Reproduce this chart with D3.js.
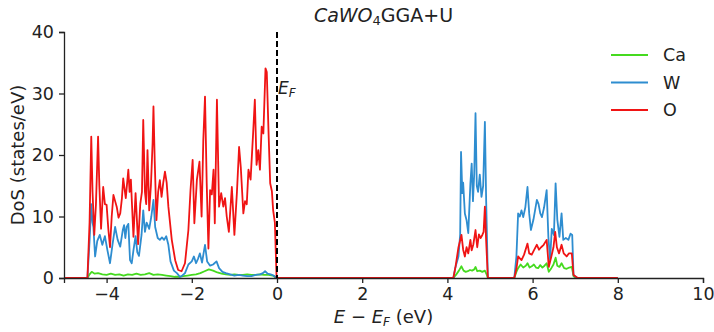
<!DOCTYPE html>
<html>
<head>
<meta charset="utf-8">
<script src="https://cdn.jsdelivr.net/npm/d3@7"></script>
<style>
  body { margin: 0; background: #fff; }
  svg text { font-family: "DejaVu Sans", sans-serif; fill: #222; }
</style>
</head>
<body>
<script>
'use strict';

var width = 714,
    height = 332,
    margin = {top: 32, right: 11, bottom: 54, left: 64};

// energies (eV) and DoS (states/eV)
var caE = [-5, -4.45, -4.40, -4.35, -4.28, -4.20, -4.10, -4.00, -3.90, -3.80, -3.70, -3.60, -3.50, -3.40, -3.30, -3.20, -3.10, -3.00, -2.90, -2.80, -2.70, -2.60, -2.50, -2.40, -2.30, -2.20, -2.10, -2.00, -1.90, -1.80, -1.70, -1.60, -1.50, -1.40, -1.30, -1.20, -1.10, -1.00, -0.90, -0.80, -0.70, -0.60, -0.50, -0.40, -0.30, -0.20, -0.10, -0.01,
  4.14, 4.20, 4.27, 4.33, 4.38, 4.43, 4.48, 4.53, 4.58, 4.63, 4.66, 4.70, 4.76, 4.82, 4.88, 4.92, 4.95,
  5.57, 5.62, 5.66, 5.72, 5.78, 5.84, 5.88, 5.93, 5.98, 6.03, 6.08, 6.13, 6.18, 6.23, 6.28, 6.33, 6.38, 6.44, 6.49, 6.54, 6.58, 6.63, 6.68, 6.74, 6.80, 6.86, 6.92, 6.96, 7.02, 8];
var caV = [0, 0, 0.6, 1.0, 0.7, 0.8, 0.6, 0.5, 0.7, 0.5, 0.6, 0.4, 0.6, 0.5, 0.7, 0.5, 0.6, 0.8, 0.5, 0.6, 0.5, 0.4, 0.3, 0.2, 0.2, 0.3, 0.4, 0.5, 0.6, 0.8, 1.1, 1.4, 1.2, 0.9, 0.7, 0.6, 0.5, 0.6, 0.5, 0.5, 0.6, 0.5, 0.5, 0.6, 0.5, 0.5, 0.4, 0,
  0, 0.5, 1.2, 1.9, 1.2, 1.0, 1.1, 1.3, 1.2, 1.4, 1.8, 1.1, 1.2, 1.0, 1.2, 0.6, 0,
  0, 1.0, 1.6, 2.2, 1.7, 2.0, 2.4, 1.7, 1.9, 2.2, 1.7, 1.6, 2.1, 1.7, 2.0, 2.4, 1.0, 1.6, 2.2, 3.3, 2.0, 1.8, 2.4, 1.6, 1.5, 1.7, 1.8, 0.3, 0, 0];

var wE = [-5, -4.45, -4.40, -4.36, -4.33, -4.31, -4.27, -4.22, -4.16, -4.10, -4.04, -3.98, -3.92, -3.86, -3.80, -3.74, -3.68, -3.62, -3.59, -3.56, -3.53, -3.49, -3.45, -3.41, -3.37, -3.32, -3.28, -3.24, -3.18, -3.14, -3.10, -3.06, -3.00, -2.95, -2.90, -2.86, -2.80, -2.75, -2.70, -2.65, -2.60, -2.55, -2.50, -2.42, -2.35, -2.28, -2.24, -2.16, -2.08, -2.00, -1.95, -1.90, -1.85, -1.81, -1.76, -1.69, -1.64, -1.57, -1.50, -1.42, -1.36, -1.28, -1.20, -1.10, -1.00, -0.90, -0.80, -0.70, -0.60, -0.50, -0.40, -0.33, -0.28, -0.22, -0.15, -0.08, -0.01,
  4.14, 4.19, 4.26, 4.30, 4.32, 4.35, 4.37, 4.41, 4.45, 4.49, 4.54, 4.57, 4.60, 4.63, 4.66, 4.69, 4.72, 4.76, 4.80, 4.84, 4.88, 4.91, 4.95,
  5.57, 5.62, 5.66, 5.70, 5.74, 5.78, 5.83, 5.88, 5.92, 5.96, 6.02, 6.10, 6.14, 6.18, 6.22, 6.27, 6.33, 6.37, 6.41, 6.45, 6.50, 6.54, 6.58, 6.63, 6.68, 6.72, 6.78, 6.84, 6.89, 6.93, 6.96, 7.02, 7.06, 8];
var wV = [0, 0, 6, 12, 9, 8.3, 3.5, 6, 7, 5.4, 6.8, 4.5, 2.4, 5.5, 8.3, 6.2, 5.1, 7.8, 8.6, 6.5, 8.3, 8.8, 2.9, 2.4, 4.5, 6.8, 4.2, 3.6, 7, 11, 7.5, 9, 8, 10, 12.7, 8.3, 6.5, 6.2, 6.6, 6.2, 6.8, 5.4, 2.7, 1.2, 0.8, 0.2, 0.3, 0.8, 2.2, 2.7, 3.5, 2.4, 3.2, 4, 2.5, 5.4, 2.7, 2.0, 2.2, 2.7, 1.6, 1.0, 0.8, 0.6, 0.4, 0.5, 0.4, 0.3, 0.3, 0.5, 0.6, 0.8, 1.1, 0.7, 0.6, 0.4, 0,
  0, 1.8, 3.5, 7.1, 20.5, 13.8, 15.5, 10.5, 9.4, 7.3, 15.4, 18.6, 12.5, 17, 26.8, 15, 14, 16.8, 13.2, 15, 25.4, 12.5, 0,
  0, 3.5, 10.5, 10, 11, 9.9, 11.5, 14.8, 10.5, 7.8, 9.5, 12.7, 12, 10.5, 9.9, 11.5, 14.3, 6.7, 2.9, 8, 7, 15.4, 9.5, 6.7, 10.5, 6.2, 6.5, 6.2, 7.2, 7, 0.5, 0.1, 0, 0];

var oE = [-5, -4.45, -4.40, -4.36, -4.33, -4.29, -4.25, -4.20, -4.17, -4.13, -4.08, -4.04, -4.00, -3.96, -3.92, -3.88, -3.84, -3.80, -3.76, -3.72, -3.68, -3.64, -3.61, -3.55, -3.49, -3.46, -3.43, -3.37, -3.32, -3.26, -3.21, -3.17, -3.14, -3.10, -3.07, -3.04, -3.00, -2.96, -2.92, -2.90, -2.87, -2.83, -2.79, -2.75, -2.71, -2.67, -2.63, -2.59, -2.55, -2.47, -2.39, -2.32, -2.24, -2.16, -2.08, -2.03, -1.98, -1.94, -1.88, -1.82, -1.77, -1.73, -1.69, -1.65, -1.61, -1.57, -1.53, -1.49, -1.46, -1.41, -1.36, -1.31, -1.26, -1.22, -1.18, -1.13, -1.06, -1.00, -0.94, -0.89, -0.85, -0.79, -0.75, -0.71, -0.67, -0.62, -0.56, -0.52, -0.48, -0.44, -0.40, -0.36, -0.32, -0.27, -0.24, -0.20, -0.16, -0.12, -0.09, -0.05, -0.01,
  4.14, 4.19, 4.26, 4.33, 4.37, 4.41, 4.45, 4.49, 4.54, 4.57, 4.61, 4.66, 4.70, 4.74, 4.78, 4.82, 4.85, 4.88, 4.91, 4.95,
  5.57, 5.62, 5.66, 5.70, 5.74, 5.80, 5.88, 5.92, 5.98, 6.03, 6.10, 6.15, 6.20, 6.26, 6.33, 6.38, 6.44, 6.49, 6.53, 6.57, 6.62, 6.68, 6.73, 6.80, 6.85, 6.92, 6.96, 7.02, 7.06, 8];
var oV = [0, 0, 9, 23, 14, 7, 12, 23, 15, 8, 14.8, 12, 11.9, 8, 5, 10, 13.5, 12.5, 11.5, 9.8, 10.5, 13, 16.2, 13, 17.6, 14, 16, 6.7, 13.8, 5.5, 12, 14, 25.7, 14, 12, 20.8, 11, 15, 22, 27.9, 19, 9.4, 14, 15.9, 13.2, 15.5, 17.3, 15.5, 11.6, 6.2, 2.9, 1.3, 1.1, 2.4, 7.8, 14.3, 19.2, 8.9, 16, 18.9, 10, 22.4, 29.5, 15.4, 4.8, 14.3, 13.6, 17.6, 8.9, 29, 11.6, 13.8, 11.6, 13, 10, 7.5, 14.8, 7, 14, 21.3, 18, 10.5, 12.5, 12, 17.6, 16, 23.6, 29, 18.4, 20.8, 17.6, 24.6, 23.5, 34.1, 33.5, 24, 15.4, 14.1, 11, 9, 0,
  0, 1.8, 5, 7, 4.6, 3.5, 5, 4, 6.2, 4.5, 5.5, 7.8, 5, 7.1, 6.5, 7, 7.5, 11.6, 6, 0,
  0, 1.5, 3.5, 3.2, 2.9, 3.8, 5.6, 4, 3.8, 4.5, 5.4, 4.6, 5.0, 5.4, 6.2, 1.8, 3.5, 5, 7.5, 5, 4, 5.4, 4, 3.5, 4, 4, 0.5, 0.2, 0, 0];

var seriesNames = ['Ca', 'W', 'O'];
var seriesColors = ['#45da1f', '#2e8dd0', '#f01414'];
var xTicks = [-4, -2, 0, 2, 4, 6, 8, 10];
var yTicks = [0, 10, 20, 30, 40];

var series = [
  {name: seriesNames[0], color: seriesColors[0], pts: d3.zip(caE, caV)},
  {name: seriesNames[1], color: seriesColors[1], pts: d3.zip(wE, wV)},
  {name: seriesNames[2], color: seriesColors[2], pts: d3.zip(oE, oV)}
];

var x = d3.scaleLinear().domain([-5, 10]).range([margin.left, width - margin.right]);
var y = d3.scaleLinear().domain([0, 40]).range([height - margin.bottom, margin.top]);

var svg = d3.select('body').append('svg')
  .attr('width', width)
  .attr('height', height);

// curves
var line = d3.line()
  .x(function(d) { return x(d[0]); })
  .y(function(d) { return y(d[1]); });

svg.append('g').selectAll('path')
  .data(series)
  .enter().append('path')
  .attr('d', function(d) { return line(d.pts); })
  .attr('fill', 'none')
  .attr('stroke', function(d) { return d.color; })
  .attr('stroke-width', 1.8)
  .attr('stroke-linejoin', 'round');

// axes (left + bottom only)
var xAxis = svg.append('g')
  .attr('transform', 'translate(0,' + (height - margin.bottom) + ')')
  .call(d3.axisBottom(x).tickValues(xTicks).tickSize(5).tickPadding(5).tickFormat(d3.format('d')));
var yAxis = svg.append('g')
  .attr('transform', 'translate(' + margin.left + ',0)')
  .call(d3.axisLeft(y).tickValues(yTicks).tickSize(5).tickPadding(5));

[xAxis, yAxis].forEach(function(a) {
  a.select('.domain').attr('stroke', '#222').attr('stroke-width', 1.3);
  a.selectAll('.tick line').attr('stroke', '#222').attr('stroke-width', 1.3);
  a.selectAll('.tick text').style('font-size', '17.5px').attr('fill', '#222');
});

// Fermi level
svg.append('line')
  .attr('x1', x(0)).attr('x2', x(0))
  .attr('y1', y(40)).attr('y2', y(0))
  .attr('stroke', '#000')
  .attr('stroke-width', 2)
  .attr('stroke-dasharray', '6,3');

var ef = svg.append('text')
  .attr('x', x(0) + 1)
  .attr('y', y(30))
  .style('font-size', '17px');
ef.append('tspan').style('font-style', 'italic').text('E');
ef.append('tspan').style('font-style', 'italic').style('font-size', '12px').attr('dy', 3).text('F');

// title
var title = svg.append('text')
  .attr('x', (margin.left + width - margin.right) / 2)
  .attr('y', 22)
  .attr('text-anchor', 'middle')
  .style('font-size', '19px');
title.append('tspan').style('font-style', 'italic').text('CaWO');
title.append('tspan').style('font-size', '13px').attr('dy', 3).text('4');
title.append('tspan').attr('dy', -3).text('GGA+U');

// axis labels
var xl = svg.append('text')
  .attr('x', (margin.left + width - margin.right) / 2)
  .attr('y', 323)
  .attr('text-anchor', 'middle')
  .style('font-size', '18px');
xl.append('tspan').style('font-style', 'italic').text('E');
xl.append('tspan').text(' \u2212 ');
xl.append('tspan').style('font-style', 'italic').text('E');
xl.append('tspan').style('font-style', 'italic').style('font-size', '12px').attr('dy', 3).text('F');
xl.append('tspan').attr('dy', -3).text(' (eV)');

svg.append('text')
  .attr('transform', 'translate(24,' + y(20) + ') rotate(-90)')
  .attr('text-anchor', 'middle')
  .style('font-size', '18px')
  .text('DoS (states/eV)');

// legend
var legend = svg.append('g').selectAll('g')
  .data(series)
  .enter().append('g')
  .attr('transform', function(d, i) { return 'translate(611,' + (55 + i * 27.5) + ')'; });
legend.append('line')
  .attr('x1', 0).attr('x2', 37)
  .attr('stroke', function(d) { return d.color; })
  .attr('stroke-width', 1.8);
legend.append('text')
  .attr('x', 52)
  .attr('dy', '0.36em')
  .style('font-size', '17.5px')
  .text(function(d) { return d.name; });
</script>
</body>
</html>
